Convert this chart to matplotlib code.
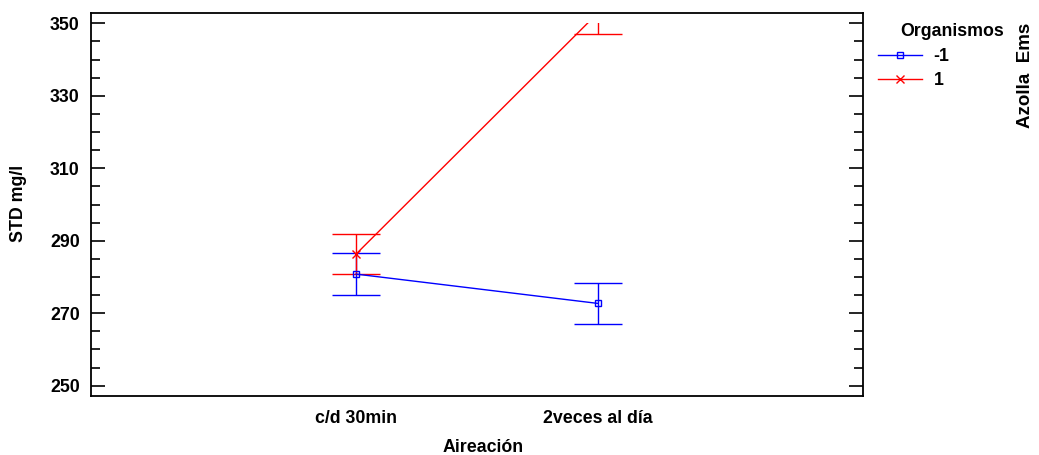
import matplotlib.pyplot as plt
from matplotlib.patches import Rectangle
import numpy as np

# Interaction plot: STD mg/l by Aireación, grouped by Organismos
categories = ['c/d 30min', '2veces al día']
groups = ['-1', '1']
means = {'-1': [280.8, 272.7], '1': [286.3, 352.9]}
errors = {'-1': [5.7, 5.7], '1': [5.6, 5.8]}
colors = {'-1': '#0000ff', '1': '#ff0000'}
markers = {'-1': 's', '1': 'x'}
yticks = [250, 270, 290, 310, 330, 350]

plt.rcParams['font.family'] = ['Liberation Sans', 'DejaVu Sans']
plt.rcParams['font.weight'] = 'bold'
plt.rcParams['font.size'] = 12.8

W, H = 1039, 455
fig = plt.figure(figsize=(W / 100, H / 100), dpi=100)
# axes frame in pixels: left 91, right 862.7, top 13.3, bottom 395.7
ax = fig.add_axes([91 / W, 1 - 395.7 / H, (862.7 - 91) / W, (395.7 - 13.3) / H])

x = np.arange(1, len(categories) + 1)
ax.set_xlim(1 - 265 / 242, 2 + 264.7 / 242)
ax.set_ylim(247.24, 352.76)

# everything above 350 is cut off in the original
clip = Rectangle((ax.get_xlim()[0], 240), 10, 350 - 240, transform=ax.transData)

handles = []
for g in groups:
    line, caps, bars = ax.errorbar(x, means[g], yerr=errors[g], color=colors[g], lw=1.0,
                                   elinewidth=1.0, capsize=17.3, capthick=1.0,
                                   marker=markers[g], markersize=5 if g == '-1' else 6,
                                   markerfacecolor='none', markeredgewidth=1.0)
    line.set_clip_path(clip)
    for a in list(caps) + list(bars):
        a.set_clip_path(clip)
    handles.append(line)

ax.set_xticks(x)
ax.set_xticklabels(categories)
ax.tick_params(axis='x', length=0, pad=10)
ax.set_yticks(yticks)
ax.set_yticks(np.arange(250, 351, 5), minor=True)
ax.tick_params(axis='y', which='major', direction='in', length=10, width=1.2,
               right=True, pad=8)
ax.tick_params(axis='y', which='minor', direction='in', length=6.5, width=1.2,
               right=True)
for sp in ax.spines.values():
    sp.set_linewidth(1.3)

fig.text(18.5 / W, 1 - 203 / H, 'STD mg/l', rotation=90, ha='center', va='center')
fig.text(483 / W, 1 - 447 / H, 'Aireación', ha='center', va='center')

# legend
fig.text(952 / W, 1 - 32 / H, 'Organismos', ha='center', va='center')
leg = fig.legend(handles, groups, loc='upper left',
                 bbox_to_anchor=(873 / W, 1 - 43 / H), frameon=False,
                 handlelength=2.45, handletextpad=0.65, labelspacing=0.38,
                 borderaxespad=0, borderpad=0.3)
fig.text(1025 / W, 1 - 75 / H, 'Azolla  Ems', rotation=90, ha='center', va='center',
         fontsize=13.5)

fig.savefig('out.png', dpi=100)
